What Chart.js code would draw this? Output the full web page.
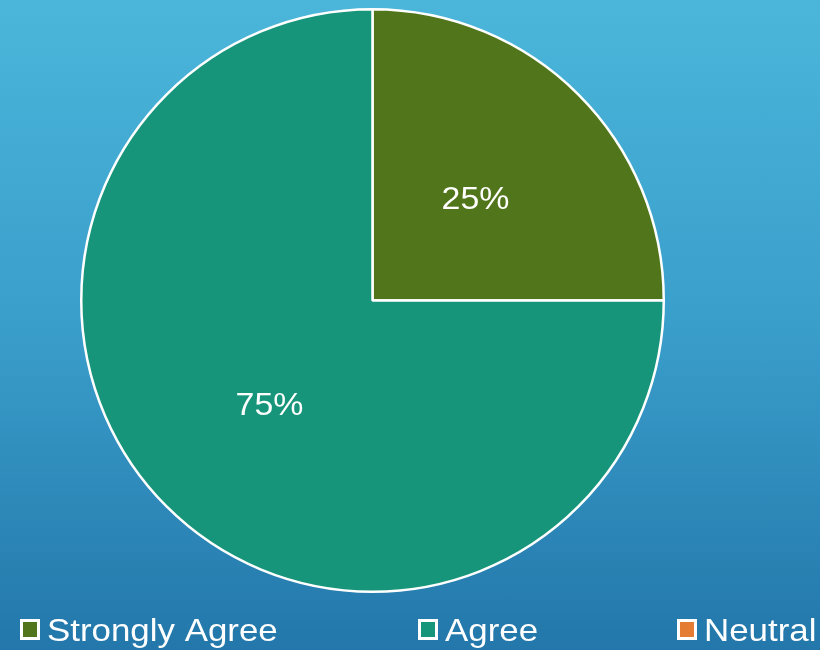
<!DOCTYPE html>
<html>
<head>
<meta charset="utf-8">
<script src="https://cdn.jsdelivr.net/npm/chart.js@4/dist/chart.umd.min.js"></script>
<style>
  html, body { margin: 0; padding: 0; }
  body { width: 820px; height: 650px; overflow: hidden;
         background: linear-gradient(to bottom, #4bb6da 0%, #3a9ecb 50%, #2377aa 100%); }
  #wrap { position: relative; width: 820px; height: 650px; }
</style>
</head>
<body>
<div id="wrap"><canvas id="c" width="820" height="650"></canvas></div>
<script>
const categories = ["Strongly Agree", "Agree", "Neutral"];
const values = [25, 75, 0];
const colors = ["#51751a", "#16957a", "#e57c34"];
const legendX = [20, 418, 677];

function stretchedText(ctx, text, x, y, sx, align) {
  ctx.save();
  ctx.translate(x, y);
  ctx.scale(sx, 1);
  ctx.textAlign = align;
  ctx.fillText(text, 0, 0);
  ctx.restore();
}

const labelPlugin = {
  id: 'sliceLabels',
  afterDatasetsDraw(chart) {
    const ctx = chart.ctx;
    const meta = chart.getDatasetMeta(0);
    const total = values.reduce((a, b) => a + b, 0);
    ctx.save();
    ctx.font = '32px "Liberation Sans", Arial, sans-serif';
    ctx.fillStyle = '#ffffff';
    ctx.textBaseline = 'middle';
    meta.data.forEach((arc, i) => {
      if (!values[i]) return;
      const p = arc.tooltipPosition();
      stretchedText(ctx, Math.round(values[i] / total * 100) + '%', p.x, p.y + 3, 1.06, 'center');
    });
    ctx.restore();
  }
};

const legendPlugin = {
  id: 'customLegend',
  afterDraw(chart) {
    const ctx = chart.ctx;
    ctx.save();
    ctx.font = '32px "Liberation Sans", Arial, sans-serif';
    ctx.textBaseline = 'alphabetic';
    categories.forEach((name, i) => {
      const x = legendX[i];
      ctx.fillStyle = '#ffffff';
      ctx.fillRect(x, 619, 20, 21);
      ctx.fillStyle = colors[i];
      ctx.fillRect(x + 3, 622, 14, 15);
      ctx.fillStyle = '#ffffff';
      stretchedText(ctx, name, x + 27, 641, 1.09, 'left');
    });
    ctx.restore();
  }
};

new Chart(document.getElementById('c'), {
  type: 'pie',
  data: {
    labels: categories,
    datasets: [{
      data: values,
      backgroundColor: colors,
      borderColor: '#ffffff',
      borderWidth: 2.5
    }]
  },
  options: {
    responsive: false,
    animation: false,
    layout: { padding: { top: 8, bottom: 57, left: 80, right: 155 } },
    plugins: {
      legend: { display: false },
      tooltip: { enabled: false }
    }
  },
  plugins: [labelPlugin, legendPlugin]
});
</script>
</body>
</html>
